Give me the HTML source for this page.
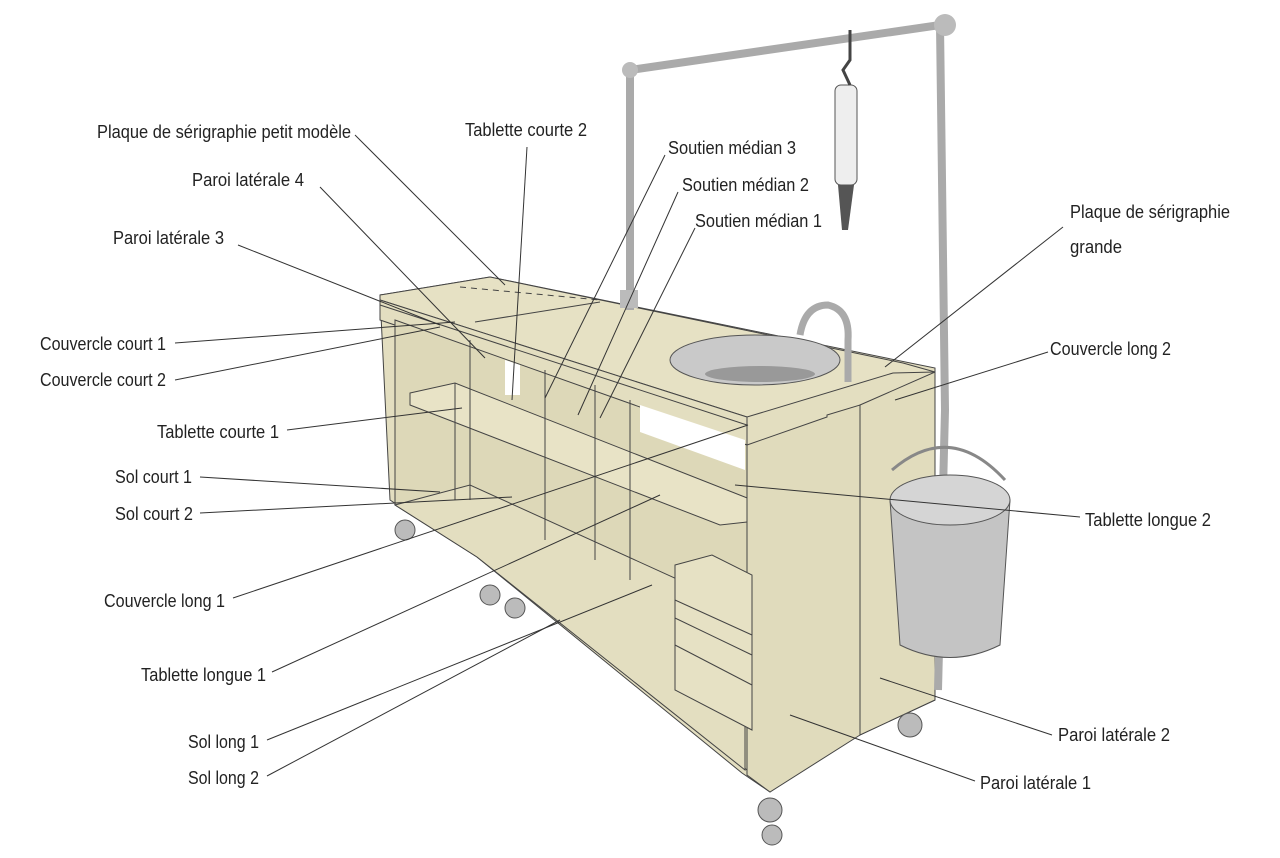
<!DOCTYPE html>
<html><head><meta charset="utf-8"><style>
body{margin:0;background:#fff;width:1280px;height:853px;overflow:hidden}
svg text{font-family:"Liberation Sans Narrow","Liberation Sans",sans-serif;font-size:18px;fill:#222}
</style></head><body>
<svg width="1280" height="853" viewBox="0 0 1280 853" xmlns="http://www.w3.org/2000/svg">
<g stroke="#444" stroke-width="1" fill="#e3dec0">
<polygon points="380,295 490,277 935,368 935,700 860,735 830,735 770,792 742,773 477,557 390,500"/>
<polygon points="380,295 490,277 903,363 935,372 893,373 747,417 380,300" fill="#e6e1c4"/>
<polygon points="380,300 747,417 747,445 380,320"/>
<polygon points="395,320 747,445 747,770 477,557 395,505" fill="#ddd8b8"/>
<polygon points="640,405 745,440 745,470 640,432" fill="#fff" stroke="none"/>
<polygon points="505,360 520,365 520,395 505,395" fill="#fff" stroke="none"/>
<polygon points="410,393 455,383 765,505 765,520 720,525 410,405" fill="#e8e3c6"/>
<polygon points="395,505 470,485 745,610 745,770 477,557" fill="#e3dec0"/>
<polygon points="747,445 827,417 827,415 860,405 860,735 770,792 747,775" fill="#e0dbbc"/>
<polygon points="860,405 935,372 935,700 860,735" fill="#e1dcbd"/>
<polygon points="675,565 712,555 752,575 752,730 675,690" fill="#e6e1c4"/>
<line x1="675" y1="600" x2="752" y2="635"/><line x1="675" y1="618" x2="752" y2="655"/><line x1="675" y1="645" x2="752" y2="685"/>
<line x1="455" y1="383" x2="455" y2="500"/><line x1="470" y1="340" x2="470" y2="500"/><line x1="545" y1="370" x2="545" y2="540"/><line x1="595" y1="385" x2="595" y2="560"/><line x1="630" y1="400" x2="630" y2="580"/>
<line x1="380" y1="305" x2="747" y2="425"/>
<line x1="460" y1="287" x2="600" y2="300" stroke-dasharray="6,5"/>
<line x1="475" y1="322" x2="600" y2="302"/>
</g>
<ellipse cx="755" cy="360" rx="85" ry="25" fill="#c9c9c9" stroke="#555"/>
<ellipse cx="760" cy="374" rx="55" ry="8" fill="#999"/>
<path d="M800,335 Q805,305 828,305 Q850,310 848,340 L848,382" fill="none" stroke="#aaa" stroke-width="7"/>
<g fill="none" stroke="#aaa" stroke-width="8">
<path d="M630,310 L630,70 L940,25 L945,410 L938,690"/>
</g>
<circle cx="630" cy="70" r="8" fill="#bbb"/><circle cx="945" cy="25" r="11" fill="#bbb"/>
<rect x="620" y="290" width="18" height="18" fill="#bbb"/>
<rect x="835" y="85" width="22" height="100" rx="6" fill="#eee" stroke="#555"/>
<path d="M838,185 L854,185 L848,230 L842,230Z" fill="#555"/>
<path d="M850,30 L850,60 L843,70 L850,85" stroke="#444" stroke-width="3" fill="none"/>
<path d="M890,500 L1010,500 L1000,645 Q950,670 900,645 Z" fill="#c4c4c4" stroke="#555"/>
<ellipse cx="950" cy="500" rx="60" ry="25" fill="#d5d5d5" stroke="#555"/>
<path d="M892,470 Q950,420 1005,480" fill="none" stroke="#888" stroke-width="3"/>
<g fill="#bbb" stroke="#555">
<circle cx="405" cy="530" r="10"/><circle cx="490" cy="595" r="10"/><circle cx="515" cy="608" r="10"/><circle cx="770" cy="810" r="12"/><circle cx="772" cy="835" r="10"/><circle cx="910" cy="725" r="12"/>
</g>
<g stroke="#333" stroke-width="1">
<line x1="355" y1="135" x2="505" y2="285"/>
<line x1="527" y1="147" x2="512" y2="400"/>
<line x1="320" y1="187" x2="485" y2="358"/>
<line x1="665" y1="155" x2="545" y2="398"/>
<line x1="678" y1="192" x2="578" y2="415"/>
<line x1="695" y1="228" x2="600" y2="418"/>
<line x1="238" y1="245" x2="440" y2="325"/>
<line x1="1063" y1="227" x2="885" y2="367"/>
<line x1="175" y1="343" x2="455" y2="322"/>
<line x1="175" y1="380" x2="440" y2="327"/>
<line x1="1048" y1="352" x2="895" y2="400"/>
<line x1="287" y1="430" x2="462" y2="408"/>
<line x1="200" y1="477" x2="440" y2="492"/>
<line x1="200" y1="513" x2="512" y2="497"/>
<line x1="1080" y1="517" x2="735" y2="485"/>
<line x1="233" y1="598" x2="748" y2="425"/>
<line x1="272" y1="672" x2="660" y2="495"/>
<line x1="267" y1="740" x2="652" y2="585"/>
<line x1="267" y1="776" x2="560" y2="620"/>
<line x1="1052" y1="735" x2="880" y2="678"/>
<line x1="975" y1="781" x2="790" y2="715"/>
</g>
<g lengthAdjust="spacingAndGlyphs">
<text x="97" y="138" textLength="254" lengthAdjust="spacingAndGlyphs">Plaque de sérigraphie petit modèle</text>
<text x="465" y="136" textLength="122" lengthAdjust="spacingAndGlyphs">Tablette courte 2</text>
<text x="192" y="186" textLength="112" lengthAdjust="spacingAndGlyphs">Paroi latérale 4</text>
<text x="668" y="154" textLength="128" lengthAdjust="spacingAndGlyphs">Soutien médian 3</text>
<text x="682" y="191" textLength="127" lengthAdjust="spacingAndGlyphs">Soutien médian 2</text>
<text x="695" y="227" textLength="127" lengthAdjust="spacingAndGlyphs">Soutien médian 1</text>
<text x="113" y="244" textLength="111" lengthAdjust="spacingAndGlyphs">Paroi latérale 3</text>
<text x="1070" y="218" textLength="160" lengthAdjust="spacingAndGlyphs">Plaque de sérigraphie</text>
<text x="1070" y="253" textLength="52" lengthAdjust="spacingAndGlyphs">grande</text>
<text x="40" y="350" textLength="126" lengthAdjust="spacingAndGlyphs">Couvercle court 1</text>
<text x="40" y="386" textLength="126" lengthAdjust="spacingAndGlyphs">Couvercle court 2</text>
<text x="1050" y="355" textLength="121" lengthAdjust="spacingAndGlyphs">Couvercle long 2</text>
<text x="157" y="438" textLength="122" lengthAdjust="spacingAndGlyphs">Tablette courte 1</text>
<text x="115" y="483" textLength="77" lengthAdjust="spacingAndGlyphs">Sol court 1</text>
<text x="115" y="520" textLength="78" lengthAdjust="spacingAndGlyphs">Sol court 2</text>
<text x="1085" y="526" textLength="126" lengthAdjust="spacingAndGlyphs">Tablette longue 2</text>
<text x="104" y="607" textLength="121" lengthAdjust="spacingAndGlyphs">Couvercle long 1</text>
<text x="141" y="681" textLength="125" lengthAdjust="spacingAndGlyphs">Tablette longue 1</text>
<text x="188" y="748" textLength="71" lengthAdjust="spacingAndGlyphs">Sol long 1</text>
<text x="188" y="784" textLength="71" lengthAdjust="spacingAndGlyphs">Sol long 2</text>
<text x="1058" y="741" textLength="112" lengthAdjust="spacingAndGlyphs">Paroi latérale 2</text>
<text x="980" y="789" textLength="111" lengthAdjust="spacingAndGlyphs">Paroi latérale 1</text>
</g>
</svg>
</body></html>
